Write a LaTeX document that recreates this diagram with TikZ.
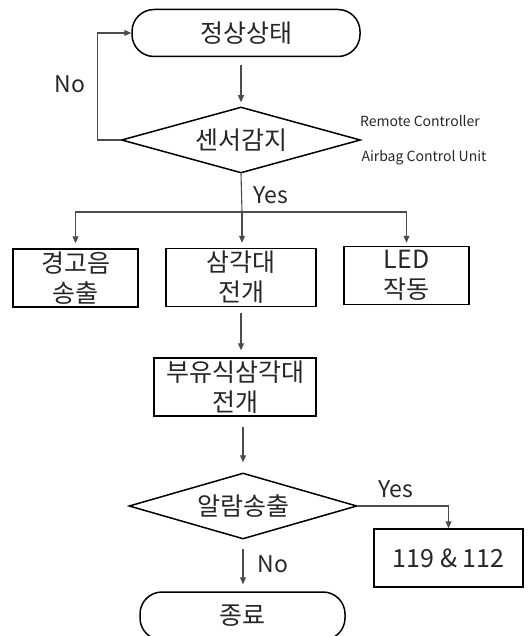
\documentclass[tikz,border=0pt]{standalone}
\usepackage{fontspec}
\setmainfont{Noto Sans CJK KR}
\usetikzlibrary{shapes.geometric,arrows.meta}

\begin{document}
\begin{tikzpicture}[x=1pt,y=-1pt,
  >={Triangle[length=7pt,width=6pt]},
  every node/.style={font=\fontsize{25}{30}\selectfont,text=black!85},
  term/.style={draw,line width=1.5pt,rounded corners=22pt,minimum height=47pt},
  dec/.style={draw,diamond,line width=1.5pt,aspect=3.5,inner sep=0pt,minimum height=66pt},
  box/.style={draw,line width=1.5pt,align=center,minimum height=58pt,inner sep=0pt},
  link/.style={draw=black!70,line width=1.1pt},
  answer/.style={font=\fontsize{23}{26}\selectfont},
  note/.style={font=\fontsize{14}{16}\selectfont}]
  \useasboundingbox (0,0) rectangle (531,636);
  \clip (0,0) rectangle (531,636);
  \node[term,minimum width=228pt] (start) at (246,33) {정상상태};
  \node[dec,minimum width=239pt] (sensor) at (241,140) {센서감지};
  \node[box,minimum width=125pt] (beep) at (75.5,278) {경고음\\송출};
  \node[box,minimum width=150pt] (tri) at (241,277.5) {삼각대\\전개};
  \node[box,minimum width=125pt] (led) at (406.5,275.5) {LED\\작동};
  \node[box,minimum width=162pt] (float) at (235,387) {부유식삼각대\\전개};
  \node[dec,minimum width=228pt] (alarm) at (243,506) {알람송출};
  \node[box,minimum width=149pt] (call) at (448.5,558) {119 \& 112};
  \node[term,minimum width=205pt,minimum height=48pt] (stop) at (242.5,616) {종료};
  \coordinate (split) at (242,212);
  \node[answer] (no1) at (70,84) {No};
  \node[answer] (yes1) at (271,195) {Yes};
  \node[answer] (yes2) at (396,489) {Yes};
  \node[answer] (no2) at (273,564) {No};
  \node[note] (remote) at (420,121) {Remote Controller};
  \node[note] (acu) at (424,158) {Airbag Control Unit};
  \draw[link,->,shorten <=8pt,shorten >=4pt] (start.south -| sensor.north) -- (sensor.north);
  \draw[link,->] (sensor.west) -- ++(-23,0) |- (start.west);
  \draw[link] (sensor.south) -- (split);
  \draw[link,->,shorten >=5pt] (split) -| (beep.north);
  \draw[link,->,shorten >=5pt] (split) -- (split |- tri.north);
  \draw[link,->,shorten >=3pt] (split) -| (led.north);
  \draw[link,->,shorten <=6pt,shorten >=7pt] (tri.south) -- (tri.south |- float.north);
  \draw[link,->,shorten <=10pt,shorten >=10pt] (alarm.north |- float.south) -- (alarm.north);
  \draw[link,->] (alarm.east) -| (call.north);
  \draw[link,->,shorten <=9pt,shorten >=7pt] (alarm.south) -- (alarm.south |- stop.north);
\end{tikzpicture}
\end{document}
